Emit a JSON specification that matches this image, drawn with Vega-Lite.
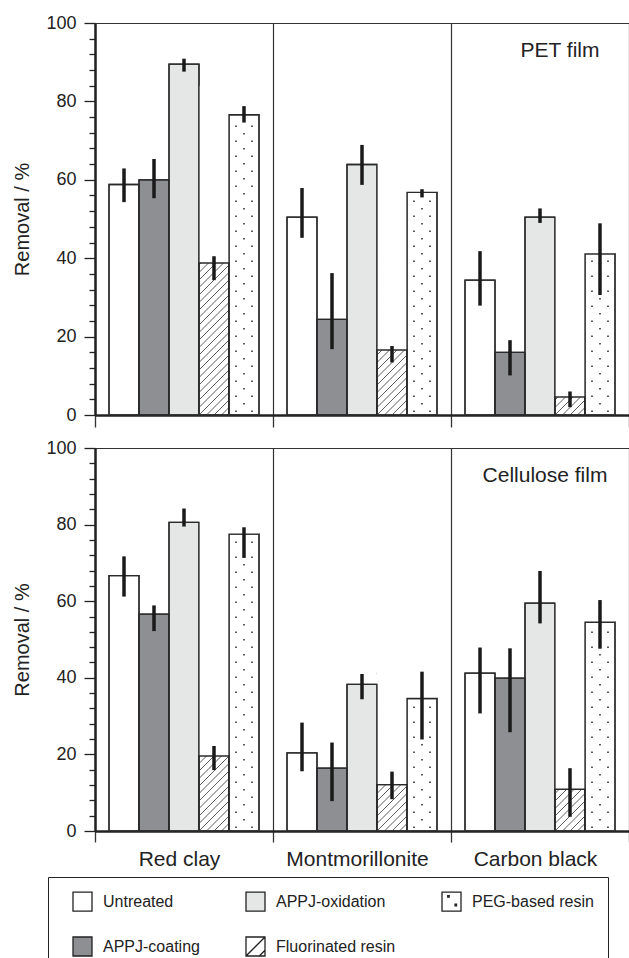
{
  "$schema": "https://vega.github.io/schema/vega-lite/v6.json",
  "padding": {"left": 12, "top": 13, "right": 0, "bottom": 0},
  "config": {
    "font": "Liberation Sans",
    "view": {"stroke": "#333", "strokeWidth": 1},
    "axis": {"labelColor": "#222", "titleColor": "#222"}
  },
  "datasets": {
    "bars": [
      {"panel": "PET film", "material": "Red clay", "treatment": "Untreated", "value": 58.8, "lo": 54.3, "hi": 62.9},
      {"panel": "PET film", "material": "Red clay", "treatment": "APPJ-coating", "value": 60.0, "lo": 55.3, "hi": 65.3},
      {"panel": "PET film", "material": "Red clay", "treatment": "APPJ-oxidation", "value": 89.5, "lo": 87.6, "hi": 90.9},
      {"panel": "PET film", "material": "Red clay", "treatment": "Fluorinated resin", "value": 38.8, "lo": 34.4, "hi": 40.5},
      {"panel": "PET film", "material": "Red clay", "treatment": "PEG-based resin", "value": 76.6, "lo": 74.6, "hi": 78.8},
      {"panel": "PET film", "material": "Montmorillonite", "treatment": "Untreated", "value": 50.5, "lo": 45.2, "hi": 57.9},
      {"panel": "PET film", "material": "Montmorillonite", "treatment": "APPJ-coating", "value": 24.4, "lo": 16.8, "hi": 36.2},
      {"panel": "PET film", "material": "Montmorillonite", "treatment": "APPJ-oxidation", "value": 63.9, "lo": 58.7, "hi": 68.9},
      {"panel": "PET film", "material": "Montmorillonite", "treatment": "Fluorinated resin", "value": 16.6, "lo": 13.4, "hi": 17.6},
      {"panel": "PET film", "material": "Montmorillonite", "treatment": "PEG-based resin", "value": 56.8, "lo": 55.5, "hi": 57.6},
      {"panel": "PET film", "material": "Carbon black", "treatment": "Untreated", "value": 34.4, "lo": 27.9, "hi": 41.8},
      {"panel": "PET film", "material": "Carbon black", "treatment": "APPJ-coating", "value": 16.0, "lo": 10.1, "hi": 19.1},
      {"panel": "PET film", "material": "Carbon black", "treatment": "APPJ-oxidation", "value": 50.5, "lo": 49.0, "hi": 52.7},
      {"panel": "PET film", "material": "Carbon black", "treatment": "Fluorinated resin", "value": 4.6, "lo": 2.0, "hi": 6.0},
      {"panel": "PET film", "material": "Carbon black", "treatment": "PEG-based resin", "value": 41.1, "lo": 30.6, "hi": 48.9},
      {"panel": "Cellulose film", "material": "Red clay", "treatment": "Untreated", "value": 66.7, "lo": 61.2, "hi": 71.7},
      {"panel": "Cellulose film", "material": "Red clay", "treatment": "APPJ-coating", "value": 56.6, "lo": 52.2, "hi": 58.9},
      {"panel": "Cellulose film", "material": "Red clay", "treatment": "APPJ-oxidation", "value": 80.6, "lo": 79.5, "hi": 84.2},
      {"panel": "Cellulose film", "material": "Red clay", "treatment": "Fluorinated resin", "value": 19.6, "lo": 15.9, "hi": 22.2},
      {"panel": "Cellulose film", "material": "Red clay", "treatment": "PEG-based resin", "value": 77.5, "lo": 71.3, "hi": 79.3},
      {"panel": "Cellulose film", "material": "Montmorillonite", "treatment": "Untreated", "value": 20.4, "lo": 15.6, "hi": 28.3},
      {"panel": "Cellulose film", "material": "Montmorillonite", "treatment": "APPJ-coating", "value": 16.4, "lo": 7.8, "hi": 23.1},
      {"panel": "Cellulose film", "material": "Montmorillonite", "treatment": "APPJ-oxidation", "value": 38.3, "lo": 34.4, "hi": 41.0},
      {"panel": "Cellulose film", "material": "Montmorillonite", "treatment": "Fluorinated resin", "value": 12.1, "lo": 8.3, "hi": 15.5},
      {"panel": "Cellulose film", "material": "Montmorillonite", "treatment": "PEG-based resin", "value": 34.6, "lo": 23.9, "hi": 41.6},
      {"panel": "Cellulose film", "material": "Carbon black", "treatment": "Untreated", "value": 41.2, "lo": 30.7, "hi": 47.9},
      {"panel": "Cellulose film", "material": "Carbon black", "treatment": "APPJ-coating", "value": 39.9, "lo": 25.8, "hi": 47.7},
      {"panel": "Cellulose film", "material": "Carbon black", "treatment": "APPJ-oxidation", "value": 59.5, "lo": 54.2, "hi": 67.9},
      {"panel": "Cellulose film", "material": "Carbon black", "treatment": "Fluorinated resin", "value": 10.9, "lo": 3.7, "hi": 16.4},
      {"panel": "Cellulose film", "material": "Carbon black", "treatment": "PEG-based resin", "value": 54.5, "lo": 47.6, "hi": 60.3}
    ]
  },
  "spacing": 9,
  "vconcat": [
    {
      "width": 534,
      "height": 392,
      "data": {"name": "bars"},
      "transform": [{"filter": "datum.panel === 'PET film'"}],
      "resolve": {"axis": {"y": "independent"}},
      "layer": [
        {
          "mark": {"type": "bar", "stroke": "#2a2a2a", "strokeWidth": 1.3},
          "encoding": {
            "x": {"field": "material", "type": "nominal", "scale": {"domain": ["Red clay", "Montmorillonite", "Carbon black"], "paddingInner": 0, "paddingOuter": 0},
              "axis": {"title": null, "labels": false, "tickBand": "extent", "grid": true, "gridColor": "#333", "gridWidth": 1.2, "ticks": true, "tickSize": 12, "tickWidth": 1.3, "tickColor": "#333", "domainColor": "#222", "domainWidth": 2.5}},
            "xOffset": {"field": "treatment", "type": "nominal", "scale": {"domain": ["Untreated", "APPJ-coating", "APPJ-oxidation", "Fluorinated resin", "PEG-based resin"], "paddingInner": 0, "paddingOuter": 0.467}},
            "y": {"field": "value", "type": "quantitative", "scale": {"domain": [0, 100], "nice": false},
              "axis": {"orient": "left", "title": "Removal / %", "values": [0, 20, 40, 60, 80, 100], "tickSize": 11, "labelFontSize": 18, "labelPadding": 8, "labelOverlap": false, "labelFlush": false, "titleFontSize": 20, "titleFontWeight": "normal", "titlePadding": 13, "domainColor": "#222", "domainWidth": 2.5, "tickColor": "#222", "tickWidth": 1.3, "grid": false}},
            "fill": {"field": "treatment", "type": "nominal", "scale": {"domain": ["Untreated", "APPJ-coating", "APPJ-oxidation", "Fluorinated resin", "PEG-based resin"], "range": ["#ffffff", "#8e8f93", "#e5e6e6", "#ffffff", "#ffffff"]},
              "legend": {"title": null, "orient": "none", "legendX": -47, "legendY": 854, "direction": "horizontal", "columns": 3, "values": ["Untreated", "APPJ-oxidation", "PEG-based resin", "APPJ-coating", "Fluorinated resin"], "symbolType": "square", "symbolSize": 361, "symbolStrokeColor": "#222", "symbolStrokeWidth": 1.3, "labelFontSize": 16, "labelOffset": 10, "labelColor": "#222", "columnPadding": 35, "rowPadding": 20, "padding": 14, "symbolOffset": 10, "strokeColor": "#222",
                "encode": {"symbols": {"update": {"shape": {"signal": "datum.value === 'Fluorinated resin' ? 'M-1,-1H1V1H-1Z M-1,1L1,-1 M0.4,1L1,0.4' : datum.value === 'PEG-based resin' ? 'M-1,-1H1V1H-1Z M-0.4,-0.65h0.16v0.16h-0.16Z M0.37,0.27h0.16v0.16h-0.16Z' : 'square'"}, "stroke": {"value": "#222"}, "strokeWidth": {"value": 1.3}, "fillOpacity": {"value": 1}, "opacity": {"value": 1}}}}}}
          }
        },
        {
          "transform": [{"filter": "datum.treatment === 'Fluorinated resin'"}],
          "mark": {"type": "point", "filled": false, "opacity": 1, "size": 4, "stroke": "#333", "strokeWidth": 0.8,
            "shape": "M7.5,0L15,-7.5M0,0L15,-15M-7.5,0L15,-22.5M-15,0L15,-30M-15,-7.5L15,-37.5M-15,-15L15,-45M-15,-22.5L15,-52.5M-15,-30L15,-60M-15,-37.5L15,-67.5M-15,-45L15,-75M-15,-52.5L15,-82.5M-15,-60L15,-90M-15,-67.5L15,-97.5M-15,-75L15,-105M-15,-82.5L15,-112.5M-15,-90L15,-120M-15,-97.5L15,-127.5M-15,-105L15,-135M-15,-112.5L15,-142.5M-15,-120L15,-150M-15,-127.5L15,-157.5M-15,-135L15,-165M-15,-142.5L12.5,-170M-15,-150L5,-170M-15,-157.5L-2.5,-170M-15,-165L-10,-170"},
          "encoding": {
            "x": {"field": "material", "type": "nominal"},
            "xOffset": {"field": "treatment", "type": "nominal"},
            "y": {"datum": 0, "type": "quantitative", "axis": null}
          }
        },
        {
          "transform": [{"filter": "datum.treatment === 'PEG-based resin'"}],
          "mark": {"type": "point", "filled": true, "opacity": 1, "size": 4, "fill": "#333", "strokeWidth": 0,
            "shape": "M-8.8,-4.55h1.6v1.6h-1.6zM7.2,-4.55h1.6v1.6h-1.6zM-0.8,-12.05h1.6v1.6h-1.6zM-8.8,-19.55h1.6v1.6h-1.6zM7.2,-19.55h1.6v1.6h-1.6zM-0.8,-27.05h1.6v1.6h-1.6zM-8.8,-34.55h1.6v1.6h-1.6zM7.2,-34.55h1.6v1.6h-1.6zM-0.8,-42.05h1.6v1.6h-1.6zM-8.8,-49.55h1.6v1.6h-1.6zM7.2,-49.55h1.6v1.6h-1.6zM-0.8,-57.05h1.6v1.6h-1.6zM-8.8,-64.55h1.6v1.6h-1.6zM7.2,-64.55h1.6v1.6h-1.6zM-0.8,-72.05h1.6v1.6h-1.6zM-8.8,-79.55h1.6v1.6h-1.6zM7.2,-79.55h1.6v1.6h-1.6zM-0.8,-87.05h1.6v1.6h-1.6zM-8.8,-94.55h1.6v1.6h-1.6zM7.2,-94.55h1.6v1.6h-1.6zM-0.8,-102.05h1.6v1.6h-1.6zM-8.8,-109.55h1.6v1.6h-1.6zM7.2,-109.55h1.6v1.6h-1.6zM-0.8,-117.05h1.6v1.6h-1.6zM-8.8,-124.55h1.6v1.6h-1.6zM7.2,-124.55h1.6v1.6h-1.6zM-0.8,-132.05h1.6v1.6h-1.6zM-8.8,-139.55h1.6v1.6h-1.6zM7.2,-139.55h1.6v1.6h-1.6zM-0.8,-147.05h1.6v1.6h-1.6zM-8.8,-154.55h1.6v1.6h-1.6zM7.2,-154.55h1.6v1.6h-1.6zM-0.8,-162.05h1.6v1.6h-1.6zM-8.8,-169.55h1.6v1.6h-1.6zM7.2,-169.55h1.6v1.6h-1.6zM-0.8,-177.05h1.6v1.6h-1.6zM-8.8,-184.55h1.6v1.6h-1.6zM7.2,-184.55h1.6v1.6h-1.6zM-0.8,-192.05h1.6v1.6h-1.6zM-8.8,-199.55h1.6v1.6h-1.6zM7.2,-199.55h1.6v1.6h-1.6zM-0.8,-207.05h1.6v1.6h-1.6zM-8.8,-214.55h1.6v1.6h-1.6zM7.2,-214.55h1.6v1.6h-1.6zM-0.8,-222.05h1.6v1.6h-1.6zM-8.8,-229.55h1.6v1.6h-1.6zM7.2,-229.55h1.6v1.6h-1.6zM-0.8,-237.05h1.6v1.6h-1.6zM-8.8,-244.55h1.6v1.6h-1.6zM7.2,-244.55h1.6v1.6h-1.6zM-0.8,-252.05h1.6v1.6h-1.6zM-8.8,-259.55h1.6v1.6h-1.6zM7.2,-259.55h1.6v1.6h-1.6zM-0.8,-267.05h1.6v1.6h-1.6zM-8.8,-274.55h1.6v1.6h-1.6zM7.2,-274.55h1.6v1.6h-1.6zM-0.8,-282.05h1.6v1.6h-1.6zM-8.8,-289.55h1.6v1.6h-1.6zM7.2,-289.55h1.6v1.6h-1.6zM-0.8,-297.05h1.6v1.6h-1.6zM-8.8,-304.55h1.6v1.6h-1.6zM7.2,-304.55h1.6v1.6h-1.6z"},
          "encoding": {
            "x": {"field": "material", "type": "nominal"},
            "xOffset": {"field": "treatment", "type": "nominal"},
            "y": {"datum": 0, "type": "quantitative", "axis": null}
          }
        },
        {
          "transform": [{"filter": {"field": "treatment", "oneOf": ["Fluorinated resin", "PEG-based resin"]}}],
          "mark": {"type": "bar", "fill": "#ffffff", "strokeWidth": 0},
          "encoding": {
            "x": {"field": "material", "type": "nominal"},
            "xOffset": {"field": "treatment", "type": "nominal"},
            "y": {"field": "value", "type": "quantitative", "axis": null},
            "y2": {"datum": 84}
          }
        },
        {
          "mark": {"type": "bar", "fillOpacity": 0, "stroke": "#2a2a2a", "strokeWidth": 1.3},
          "encoding": {
            "x": {"field": "material", "type": "nominal"},
            "xOffset": {"field": "treatment", "type": "nominal"},
            "y": {"field": "value", "type": "quantitative",
              "axis": {"orient": "left", "title": null, "labels": false, "domain": false, "grid": false, "values": [4, 8, 12, 16, 24, 28, 32, 36, 44, 48, 52, 56, 64, 68, 72, 76, 84, 88, 92, 96], "tickSize": 6, "tickWidth": 1.3, "tickColor": "#222"}}
          }
        },
        {
          "mark": {"type": "rule", "color": "#1a1a1a", "strokeWidth": 3.5},
          "encoding": {
            "x": {"field": "material", "type": "nominal"},
            "xOffset": {"field": "treatment", "type": "nominal"},
            "y": {"field": "lo", "type": "quantitative", "axis": null},
            "y2": {"field": "hi"}
          }
        },
        {
          "data": {"values": [{"panel": "PET film"}]},
          "mark": {"type": "text", "fontSize": 21, "color": "#222", "align": "center", "baseline": "middle", "dx": 20},
          "encoding": {
            "x": {"datum": "Carbon black", "type": "nominal"},
            "y": {"datum": 92.8, "type": "quantitative", "axis": null},
            "text": {"field": "panel"}
          }
        }
      ]
    },
    {
      "width": 534,
      "height": 383,
      "data": {"name": "bars"},
      "transform": [{"filter": "datum.panel === 'Cellulose film'"}],
      "resolve": {"axis": {"y": "independent"}},
      "layer": [
        {
          "mark": {"type": "bar", "stroke": "#2a2a2a", "strokeWidth": 1.3},
          "encoding": {
            "x": {"field": "material", "type": "nominal", "scale": {"domain": ["Red clay", "Montmorillonite", "Carbon black"], "paddingInner": 0, "paddingOuter": 0},
              "axis": {"title": null, "labels": true, "labelFontSize": 21, "labelOffset": -5, "labelPadding": 6, "labelAngle": 0, "labelOverlap": false, "labelBound": false, "labelFlush": false, "tickBand": "extent", "grid": true, "gridColor": "#333", "gridWidth": 1.2, "ticks": true, "tickSize": 11, "tickWidth": 1.3, "tickColor": "#333", "domainColor": "#222", "domainWidth": 2.5}},
            "xOffset": {"field": "treatment", "type": "nominal", "scale": {"domain": ["Untreated", "APPJ-coating", "APPJ-oxidation", "Fluorinated resin", "PEG-based resin"], "paddingInner": 0, "paddingOuter": 0.467}},
            "y": {"field": "value", "type": "quantitative", "scale": {"domain": [0, 100], "nice": false},
              "axis": {"orient": "left", "title": "Removal / %", "values": [0, 20, 40, 60, 80, 100], "tickSize": 11, "labelFontSize": 18, "labelPadding": 8, "labelOverlap": false, "labelFlush": false, "titleFontSize": 20, "titleFontWeight": "normal", "titlePadding": 13, "domainColor": "#222", "domainWidth": 2.5, "tickColor": "#222", "tickWidth": 1.3, "grid": false}},
            "fill": {"field": "treatment", "type": "nominal", "scale": {"domain": ["Untreated", "APPJ-coating", "APPJ-oxidation", "Fluorinated resin", "PEG-based resin"], "range": ["#ffffff", "#8e8f93", "#e5e6e6", "#ffffff", "#ffffff"]},
              "legend": {"title": null, "orient": "none", "legendX": -47, "legendY": 854, "direction": "horizontal", "columns": 3, "values": ["Untreated", "APPJ-oxidation", "PEG-based resin", "APPJ-coating", "Fluorinated resin"], "symbolType": "square", "symbolSize": 361, "symbolStrokeColor": "#222", "symbolStrokeWidth": 1.3, "labelFontSize": 16, "labelOffset": 10, "labelColor": "#222", "columnPadding": 35, "rowPadding": 20, "padding": 14, "symbolOffset": 10, "strokeColor": "#222",
                "encode": {"symbols": {"update": {"shape": {"signal": "datum.value === 'Fluorinated resin' ? 'M-1,-1H1V1H-1Z M-1,1L1,-1 M0.4,1L1,0.4' : datum.value === 'PEG-based resin' ? 'M-1,-1H1V1H-1Z M-0.4,-0.65h0.16v0.16h-0.16Z M0.37,0.27h0.16v0.16h-0.16Z' : 'square'"}, "stroke": {"value": "#222"}, "strokeWidth": {"value": 1.3}, "fillOpacity": {"value": 1}, "opacity": {"value": 1}}}}}}
          }
        },
        {
          "transform": [{"filter": "datum.treatment === 'Fluorinated resin'"}],
          "mark": {"type": "point", "filled": false, "opacity": 1, "size": 4, "stroke": "#333", "strokeWidth": 0.8,
            "shape": "M7.5,0L15,-7.5M0,0L15,-15M-7.5,0L15,-22.5M-15,0L15,-30M-15,-7.5L15,-37.5M-15,-15L15,-45M-15,-22.5L15,-52.5M-15,-30L15,-60M-15,-37.5L15,-67.5M-15,-45L15,-75M-15,-52.5L15,-82.5M-15,-60L15,-90M-15,-67.5L15,-97.5M-15,-75L15,-105M-15,-82.5L15,-112.5M-15,-90L15,-120M-15,-97.5L15,-127.5M-15,-105L15,-135M-15,-112.5L15,-142.5M-15,-120L15,-150M-15,-127.5L15,-157.5M-15,-135L15,-165M-15,-142.5L12.5,-170M-15,-150L5,-170M-15,-157.5L-2.5,-170M-15,-165L-10,-170"},
          "encoding": {
            "x": {"field": "material", "type": "nominal"},
            "xOffset": {"field": "treatment", "type": "nominal"},
            "y": {"datum": 0, "type": "quantitative", "axis": null}
          }
        },
        {
          "transform": [{"filter": "datum.treatment === 'PEG-based resin'"}],
          "mark": {"type": "point", "filled": true, "opacity": 1, "size": 4, "fill": "#333", "strokeWidth": 0,
            "shape": "M-8.8,-4.55h1.6v1.6h-1.6zM7.2,-4.55h1.6v1.6h-1.6zM-0.8,-12.05h1.6v1.6h-1.6zM-8.8,-19.55h1.6v1.6h-1.6zM7.2,-19.55h1.6v1.6h-1.6zM-0.8,-27.05h1.6v1.6h-1.6zM-8.8,-34.55h1.6v1.6h-1.6zM7.2,-34.55h1.6v1.6h-1.6zM-0.8,-42.05h1.6v1.6h-1.6zM-8.8,-49.55h1.6v1.6h-1.6zM7.2,-49.55h1.6v1.6h-1.6zM-0.8,-57.05h1.6v1.6h-1.6zM-8.8,-64.55h1.6v1.6h-1.6zM7.2,-64.55h1.6v1.6h-1.6zM-0.8,-72.05h1.6v1.6h-1.6zM-8.8,-79.55h1.6v1.6h-1.6zM7.2,-79.55h1.6v1.6h-1.6zM-0.8,-87.05h1.6v1.6h-1.6zM-8.8,-94.55h1.6v1.6h-1.6zM7.2,-94.55h1.6v1.6h-1.6zM-0.8,-102.05h1.6v1.6h-1.6zM-8.8,-109.55h1.6v1.6h-1.6zM7.2,-109.55h1.6v1.6h-1.6zM-0.8,-117.05h1.6v1.6h-1.6zM-8.8,-124.55h1.6v1.6h-1.6zM7.2,-124.55h1.6v1.6h-1.6zM-0.8,-132.05h1.6v1.6h-1.6zM-8.8,-139.55h1.6v1.6h-1.6zM7.2,-139.55h1.6v1.6h-1.6zM-0.8,-147.05h1.6v1.6h-1.6zM-8.8,-154.55h1.6v1.6h-1.6zM7.2,-154.55h1.6v1.6h-1.6zM-0.8,-162.05h1.6v1.6h-1.6zM-8.8,-169.55h1.6v1.6h-1.6zM7.2,-169.55h1.6v1.6h-1.6zM-0.8,-177.05h1.6v1.6h-1.6zM-8.8,-184.55h1.6v1.6h-1.6zM7.2,-184.55h1.6v1.6h-1.6zM-0.8,-192.05h1.6v1.6h-1.6zM-8.8,-199.55h1.6v1.6h-1.6zM7.2,-199.55h1.6v1.6h-1.6zM-0.8,-207.05h1.6v1.6h-1.6zM-8.8,-214.55h1.6v1.6h-1.6zM7.2,-214.55h1.6v1.6h-1.6zM-0.8,-222.05h1.6v1.6h-1.6zM-8.8,-229.55h1.6v1.6h-1.6zM7.2,-229.55h1.6v1.6h-1.6zM-0.8,-237.05h1.6v1.6h-1.6zM-8.8,-244.55h1.6v1.6h-1.6zM7.2,-244.55h1.6v1.6h-1.6zM-0.8,-252.05h1.6v1.6h-1.6zM-8.8,-259.55h1.6v1.6h-1.6zM7.2,-259.55h1.6v1.6h-1.6zM-0.8,-267.05h1.6v1.6h-1.6zM-8.8,-274.55h1.6v1.6h-1.6zM7.2,-274.55h1.6v1.6h-1.6zM-0.8,-282.05h1.6v1.6h-1.6zM-8.8,-289.55h1.6v1.6h-1.6zM7.2,-289.55h1.6v1.6h-1.6zM-0.8,-297.05h1.6v1.6h-1.6zM-8.8,-304.55h1.6v1.6h-1.6zM7.2,-304.55h1.6v1.6h-1.6z"},
          "encoding": {
            "x": {"field": "material", "type": "nominal"},
            "xOffset": {"field": "treatment", "type": "nominal"},
            "y": {"datum": 0, "type": "quantitative", "axis": null}
          }
        },
        {
          "transform": [{"filter": {"field": "treatment", "oneOf": ["Fluorinated resin", "PEG-based resin"]}}],
          "mark": {"type": "bar", "fill": "#ffffff", "strokeWidth": 0},
          "encoding": {
            "x": {"field": "material", "type": "nominal"},
            "xOffset": {"field": "treatment", "type": "nominal"},
            "y": {"field": "value", "type": "quantitative", "axis": null},
            "y2": {"datum": 84}
          }
        },
        {
          "mark": {"type": "bar", "fillOpacity": 0, "stroke": "#2a2a2a", "strokeWidth": 1.3},
          "encoding": {
            "x": {"field": "material", "type": "nominal"},
            "xOffset": {"field": "treatment", "type": "nominal"},
            "y": {"field": "value", "type": "quantitative",
              "axis": {"orient": "left", "title": null, "labels": false, "domain": false, "grid": false, "values": [4, 8, 12, 16, 24, 28, 32, 36, 44, 48, 52, 56, 64, 68, 72, 76, 84, 88, 92, 96], "tickSize": 6, "tickWidth": 1.3, "tickColor": "#222"}}
          }
        },
        {
          "mark": {"type": "rule", "color": "#1a1a1a", "strokeWidth": 3.5},
          "encoding": {
            "x": {"field": "material", "type": "nominal"},
            "xOffset": {"field": "treatment", "type": "nominal"},
            "y": {"field": "lo", "type": "quantitative", "axis": null},
            "y2": {"field": "hi"}
          }
        },
        {
          "data": {"values": [{"panel": "Cellulose film"}]},
          "mark": {"type": "text", "fontSize": 21, "color": "#222", "align": "center", "baseline": "middle", "dx": 5},
          "encoding": {
            "x": {"datum": "Carbon black", "type": "nominal"},
            "y": {"datum": 92.8, "type": "quantitative", "axis": null},
            "text": {"field": "panel"}
          }
        }
      ]
    }
  ]
}
